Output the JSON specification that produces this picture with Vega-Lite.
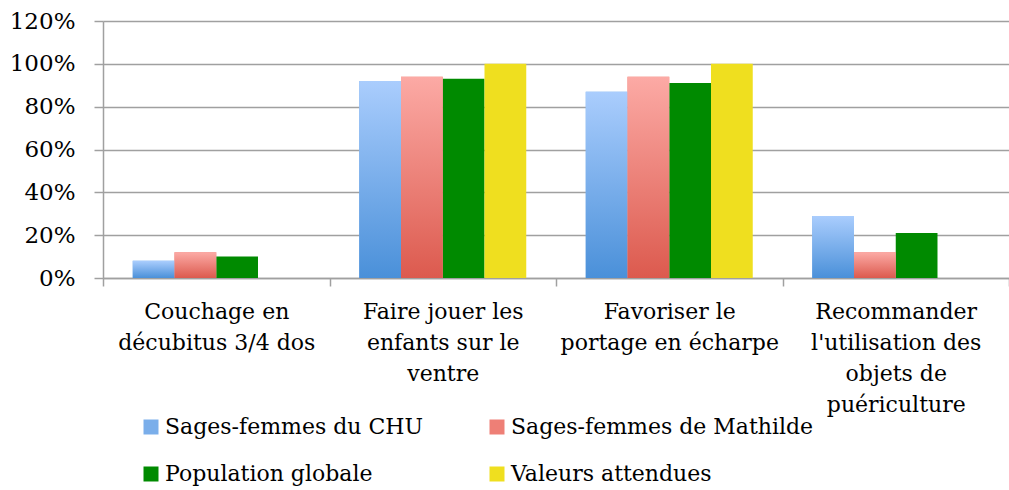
{
  "$schema": "https://vega.github.io/schema/vega-lite/v6.json",
  "width": 906,
  "height": 257,
  "autosize": "none",
  "padding": {"left": 103, "top": 21, "right": 0, "bottom": 212},
  "background": "white",
  "config": {
    "view": {"stroke": null},
    "font": "DejaVu Serif",
    "axis": {"labelFont": "DejaVu Serif"},
    "legend": {"labelFont": "DejaVu Serif"}
  },
  "data": {
    "values": [
      {"category": "Couchage en|décubitus 3/4 dos", "series": "Sages-femmes du CHU", "value": 0.08},
      {"category": "Couchage en|décubitus 3/4 dos", "series": "Sages-femmes de Mathilde", "value": 0.12},
      {"category": "Couchage en|décubitus 3/4 dos", "series": "Population globale", "value": 0.10},
      {"category": "Faire jouer les|enfants sur le|ventre", "series": "Sages-femmes du CHU", "value": 0.92},
      {"category": "Faire jouer les|enfants sur le|ventre", "series": "Sages-femmes de Mathilde", "value": 0.94},
      {"category": "Faire jouer les|enfants sur le|ventre", "series": "Population globale", "value": 0.93},
      {"category": "Faire jouer les|enfants sur le|ventre", "series": "Valeurs attendues", "value": 1.0},
      {"category": "Favoriser le|portage en écharpe", "series": "Sages-femmes du CHU", "value": 0.87},
      {"category": "Favoriser le|portage en écharpe", "series": "Sages-femmes de Mathilde", "value": 0.94},
      {"category": "Favoriser le|portage en écharpe", "series": "Population globale", "value": 0.91},
      {"category": "Favoriser le|portage en écharpe", "series": "Valeurs attendues", "value": 1.0},
      {"category": "Recommander|l'utilisation des|objets de|puériculture", "series": "Sages-femmes du CHU", "value": 0.29},
      {"category": "Recommander|l'utilisation des|objets de|puériculture", "series": "Sages-femmes de Mathilde", "value": 0.12},
      {"category": "Recommander|l'utilisation des|objets de|puériculture", "series": "Population globale", "value": 0.21}
    ]
  },
  "encoding": {
    "x": {
      "field": "category",
      "type": "nominal",
      "sort": null,
      "scale": {"paddingInner": 0, "paddingOuter": 0},
      "axis": {
        "title": null,
        "labelAngle": 0,
        "labelExpr": "split(datum.label, '|')",
        "labelFont": "DejaVu Serif",
        "labelFontSize": 22,
        "labelLineHeight": 31,
        "labelBaseline": "top",
        "labelPadding": 15,
        "labelColor": "black",
        "labelLimit": 0,
        "labelOverlap": false,
        "labelFlush": false,
        "labelBound": false,
        "tickBand": "extent",
        "tickSize": 8,
        "tickColor": "#a0a0a0",
        "tickWidth": 1.5,
        "domainColor": "#a0a0a0",
        "domainWidth": 1.5,
        "grid": false
      }
    },
    "xOffset": {
      "field": "series",
      "type": "nominal",
      "scale": {"domain": ["Sages-femmes du CHU", "Sages-femmes de Mathilde", "Population globale", "Valeurs attendues"], "paddingInner": 0, "paddingOuter": 0.7126}
    },
    "y": {
      "field": "value",
      "type": "quantitative",
      "scale": {"domain": [0, 1.2], "nice": false},
      "axis": {
        "title": null,
        "format": ".0%",
        "values": [0, 0.2, 0.4, 0.6, 0.8, 1.0, 1.2],
        "grid": true,
        "gridColor": "#a0a0a0",
        "gridWidth": 1.5,
        "tickSize": 9,
        "tickColor": "#a0a0a0",
        "tickWidth": 1.5,
        "domainColor": "#a0a0a0",
        "domainWidth": 1.5,
        "labelPadding": 19,
        "labelFont": "DejaVu Serif",
        "labelFontSize": 23,
        "labelColor": "black"
      }
    }
  },
  "layer": [
    {
      "mark": {"type": "bar"},
      "encoding": {
        "color": {
          "field": "series",
          "type": "nominal",
          "scale": {
            "domain": ["Sages-femmes du CHU", "Sages-femmes de Mathilde", "Population globale", "Valeurs attendues"],
            "range": ["#7aaeea", "#ee7f76", "#008a00", "#efdf1f"]
          },
          "legend": {
            "title": null,
            "orient": "none",
            "legendX": 37,
            "legendY": 395,
            "direction": "horizontal",
            "columns": 2,
            "symbolType": "square",
            "symbolSize": 225,
            "symbolStrokeWidth": 0,
            "symbolOpacity": 1,
            "labelFont": "DejaVu Serif",
            "labelFontSize": 22,
            "labelOffset": 3,
            "labelColor": "black",
            "labelLimit": 0,
            "rowPadding": 25,
            "columnPadding": 62,
            "padding": 0
          }
        }
      }
    },
    {
      "transform": [{"filter": "datum.series == 'Sages-femmes du CHU'"}],
      "mark": {
        "type": "bar",
        "fill": {"gradient": "linear", "x1": 0, "y1": 0, "x2": 0, "y2": 1, "stops": [{"offset": 0, "color": "#aacdfd"}, {"offset": 1, "color": "#4a90d9"}]}
      }
    },
    {
      "transform": [{"filter": "datum.series == 'Sages-femmes de Mathilde'"}],
      "mark": {
        "type": "bar",
        "fill": {"gradient": "linear", "x1": 0, "y1": 0, "x2": 0, "y2": 1, "stops": [{"offset": 0, "color": "#fcaaa5"}, {"offset": 1, "color": "#dc5a4e"}]}
      }
    }
  ]
}
